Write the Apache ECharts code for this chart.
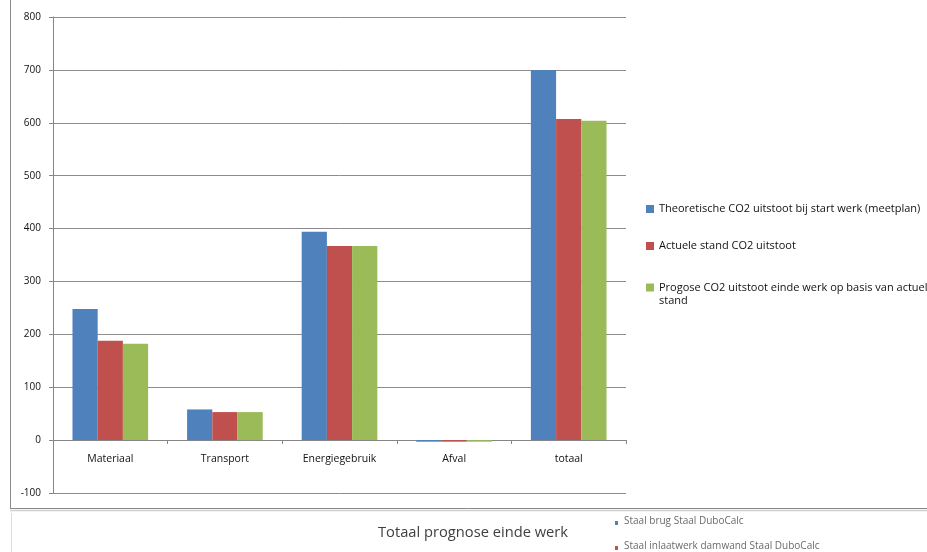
<!DOCTYPE html>
<html>
<head>
<meta charset="utf-8">
<script src="https://cdn.jsdelivr.net/npm/echarts@6/dist/echarts.min.js"></script>
<style>
html,body{margin:0;padding:0;background:#fff;}
#c{width:927px;height:552px;}
</style>
</head>
<body>
<div id="c"></div>
<script>
const categories = ['Materiaal', 'Transport', 'Energiegebruik', 'Afval', 'totaal'];
const seriesNames = [
  'Theoretische CO2 uitstoot bij start werk (meetplan)',
  'Actuele stand CO2 uitstoot',
  'Progose CO2 uitstoot einde werk op basis van actuele\nstand'
];
const theoretisch = [248, 58, 394, -3, 700];
const actueel = [188, 53, 367, -3, 607];
const prognose = [182, 53, 367, -3, 604];
const yTicks = [-100, 0, 100, 200, 300, 400, 500, 600, 700, 800];
const bottomTitle = 'Totaal prognose einde werk';
const bottomLegend = ['Staal brug Staal DuboCalc', 'Staal inlaatwerk damwand Staal DuboCalc'];

const colors = ['#4F81BD', '#C0504D', '#9BBB59'];
const font = '"Open Sans", "Liberation Sans", Arial, sans-serif';
const chart = echarts.init(document.getElementById('c'));

const legendText = { fontSize: 11, color: '#111', fontFamily: font, lineHeight: 13 };

chart.setOption({
  animation: false,
  color: colors,
  textStyle: { fontFamily: font },
  grid: { left: 53, right: 301, top: 17, bottom: 59, containLabel: false },
  legend: [
    {
      orient: 'vertical',
      left: 646,
      top: 202.5,
      padding: 0,
      itemWidth: 8,
      itemHeight: 8,
      itemGap: 24,
      icon: 'rect',
      textStyle: legendText,
      data: [seriesNames[0], seriesNames[1]]
    },
    {
      orient: 'vertical',
      left: 646,
      top: 268,
      padding: 0,
      itemWidth: 8,
      itemHeight: 8,
      icon: 'rect',
      textStyle: legendText,
      formatter: function (name) { return ' \n' + name; },
      data: [seriesNames[2]]
    }
  ],
  xAxis: {
    type: 'category',
    data: categories,
    offset: -53,
    axisLine: { onZero: false, lineStyle: { color: '#868686', width: 1 } },
    axisTick: { show: true, alignWithLabel: false, length: 4, lineStyle: { color: '#868686' } },
    axisLabel: { color: '#111', fontSize: 10.5, fontFamily: font, margin: 14 },
    splitLine: { show: false }
  },
  yAxis: {
    type: 'value',
    min: yTicks[0],
    max: yTicks[yTicks.length - 1],
    interval: 100,
    axisLine: { show: true, lineStyle: { color: '#868686', width: 1 } },
    axisTick: { show: true, length: 4, lineStyle: { color: '#868686' } },
    axisLabel: { color: '#111', fontSize: 10, fontFamily: font, margin: 12 },
    splitLine: { show: true, lineStyle: { color: '#8c8c8c', width: 1 } }
  },
  series: [
    { name: seriesNames[0], type: 'bar', data: theoretisch, barGap: '0%', barCategoryGap: '34%' },
    { name: seriesNames[1], type: 'bar', data: actueel, barGap: '0%', barCategoryGap: '34%' },
    { name: seriesNames[2], type: 'bar', data: prognose, barGap: '0%', barCategoryGap: '34%' }
  ],
  graphic: [
    { type: 'line', shape: { x1: 10.5, y1: 0, x2: 10.5, y2: 509 }, style: { stroke: '#8a8a8a', lineWidth: 1 } },
    { type: 'line', shape: { x1: 10, y1: 508.5, x2: 927, y2: 508.5 }, style: { stroke: '#8a8a8a', lineWidth: 1 } },
    { type: 'line', shape: { x1: 10, y1: 510.5, x2: 927, y2: 510.5 }, style: { stroke: '#d0d0d0', lineWidth: 1.5 } },
    { type: 'line', shape: { x1: 11.5, y1: 513, x2: 11.5, y2: 552 }, style: { stroke: '#dcdcdc', lineWidth: 1 } },
    { type: 'text', left: 378, top: 525, style: { text: bottomTitle, font: '14.7px "Open Sans", sans-serif', fill: '#404040' } },
    { type: 'rect', shape: { x: 615, y: 521, width: 3, height: 4 }, style: { fill: colors[0] } },
    { type: 'text', left: 624, top: 516, style: { text: bottomLegend[0], font: '10px "Open Sans", sans-serif', fill: '#6a6a6a' } },
    { type: 'rect', shape: { x: 615, y: 546, width: 3, height: 4 }, style: { fill: colors[1] } },
    { type: 'text', left: 624, top: 541, style: { text: bottomLegend[1], font: '10px "Open Sans", sans-serif', fill: '#6a6a6a' } }
  ]
});
</script>
</body>
</html>
